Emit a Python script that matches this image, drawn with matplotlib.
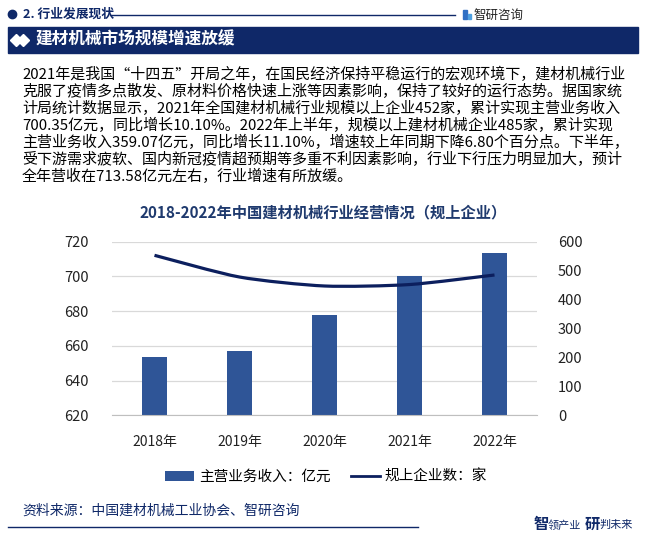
import numpy as np
import matplotlib
matplotlib.use("Agg")
import matplotlib.pyplot as plt
from matplotlib.patches import Rectangle, Patch, PathPatch
from matplotlib.lines import Line2D
from matplotlib.path import Path

plt.rcParams['font.family'] = ['Noto Sans CJK SC', 'DejaVu Sans']

# 数据
years = ['2018年', '2019年', '2020年', '2021年', '2022年']
revenue = [653.8, 657.3, 677.9, 700.35, 713.58]   # 主营业务收入：亿元
companies = [553, 478, 447, 452, 485]            # 规上企业数：家

left_ticks = [620, 640, 660, 680, 700, 720]
right_ticks = [0, 100, 200, 300, 400, 500, 600]

paragraph = [
    '2021年是我国“十四五”开局之年，在国民经济保持平稳运行的宏观环境下，建材机械行业',
    '克服了疫情多点散发、原材料价格快速上涨等因素影响，保持了较好的运行态势。据国家统',
    '计局统计数据显示，2021年全国建材机械行业规模以上企业452家，累计实现主营业务收入',
    '700.35亿元，同比增长10.10%。2022年上半年，规模以上建材机械企业485家，累计实现',
    '主营业务收入359.07亿元，同比增长11.10%，增速较上年同期下降6.80个百分点。下半年，',
    '受下游需求疲软、国内新冠疫情超预期等多重不利因素影响，行业下行压力明显加大，预计',
    '全年营收在713.58亿元左右，行业增速有所放缓。',
]

W, H = 646, 537
navy = '#0f2868'
bar_color = '#2f5597'
line_color = '#0c1f5e'

fig = plt.figure(figsize=(W / 100, H / 100), dpi=100)


def fx(x):
    return x / W


def fy(y):
    return 1 - y / H


# 顶部标题栏
fig.add_artist(Line2D([fx(12)], [fy(14)], marker='o', markersize=6, color=navy))
fig.text(fx(23), fy(14), '2. 行业发展现状', fontsize=9.2, fontweight='bold', color=navy, va='center')
fig.add_artist(Line2D([fx(110), fx(455)], [fy(15), fy(15)], color=navy, lw=1))
fig.add_artist(Rectangle((fx(463), fy(19)), fx(4), 9 / H, color='#2f6fc4'))
fig.add_artist(Rectangle((fx(468), fy(19)), fx(3), 5 / H, color='#4fa0e0'))
fig.text(fx(474), fy(15), '智研咨询', fontsize=9, color='#222222', va='center')

fig.add_artist(Rectangle((fx(8), fy(53)), fx(630), 26 / H, color=navy))
fig.add_artist(Line2D([fx(16), fx(23)], [fy(40), fy(40)], ls='none', marker='D',
                      markersize=6, color='white'))
fig.text(fx(36), fy(40), '建材机械市场规模增速放缓', fontsize=12, fontweight='bold',
         color='white', va='center')

# 正文
for i, line in enumerate(paragraph):
    fig.text(fx(22), fy(74 + i * 17.1), line, fontsize=10.8, color='black', va='center')

# 图表标题
fig.text(0.5, fy(212), '2018-2022年中国建材机械行业经营情况（规上企业）', fontsize=11,
         fontweight='bold', color='#1f3a6e', ha='center', va='center')

# 图表
ax = fig.add_axes([fx(112), fy(415.4), fx(425), 173.7 / H])
x = np.arange(len(years))
ax.bar(x, revenue, width=0.3, color=bar_color, zorder=2)
ax.set_ylim(620, 720)
ax.set_xlim(-0.5, len(years) - 0.5)
ax.set_yticks(left_ticks)
ax.set_xticks(x)
ax.set_xticklabels(years)
ax.grid(axis='y', color='#d9d9d9', lw=0.9, zorder=0)
for s in ['left', 'right', 'top']:
    ax.spines[s].set_visible(False)
ax.spines['bottom'].set_color('#bfbfbf')
ax.tick_params(axis='y', length=0, pad=17, labelsize=10.5, colors='#222222')
ax.tick_params(axis='x', length=0, pad=14, labelsize=10, colors='#222222')

ax2 = ax.twinx()
ax2.set_ylim(0, 600)
ax2.set_yticks(right_ticks)
for s in ax2.spines.values():
    s.set_visible(False)
ax2.tick_params(axis='y', length=0, pad=15, labelsize=10.5, colors='#222222')

# 平滑折线（Catmull-Rom 转贝塞尔曲线，张力略低）
k = 0.12
pts = np.column_stack([x, companies]).astype(float)
ext = np.vstack([pts[0], pts, pts[-1]])
verts = [tuple(pts[0])]
codes = [Path.MOVETO]
for i in range(len(pts) - 1):
    p0, p1, p2, p3 = ext[i], ext[i + 1], ext[i + 2], ext[i + 3]
    c1 = p1 + (p2 - p0) * k
    c2 = p2 - (p3 - p1) * k
    verts += [tuple(c1), tuple(c2), tuple(p2)]
    codes += [Path.CURVE4] * 3
ax2.add_patch(PathPatch(Path(verts, codes), facecolor='none', edgecolor=line_color,
                        lw=2.3, capstyle='butt', zorder=3))

# 图例
handles = [Patch(facecolor=bar_color, edgecolor='none'),
           Line2D([0], [0], color=line_color, lw=2.0)]
fig.legend(handles, ['主营业务收入：亿元', '规上企业数：家'], loc='center',
           bbox_to_anchor=(fx(326), fy(477)), ncol=2, frameon=False, fontsize=10.5,
           handlelength=2.0, handleheight=0.6, columnspacing=1.4, handletextpad=0.3)

# 底部
fig.text(fx(22), fy(511), '资料来源：中国建材机械工业协会、智研咨询', fontsize=10,
         color=navy, va='center')
fig.add_artist(Line2D([fx(8), fx(418)], [fy(527), fy(527)], color=navy, lw=1))
fig.text(fx(534), fy(524), '智', fontsize=11, fontweight='bold', color=navy, va='center')
fig.text(fx(548), fy(525), '领产业', fontsize=8, color=navy, va='center')
fig.text(fx(585), fy(524), '研', fontsize=11, fontweight='bold', color=navy, va='center')
fig.text(fx(599), fy(525), '判未来', fontsize=8, color=navy, va='center')

fig.savefig('out.png', dpi=100)
